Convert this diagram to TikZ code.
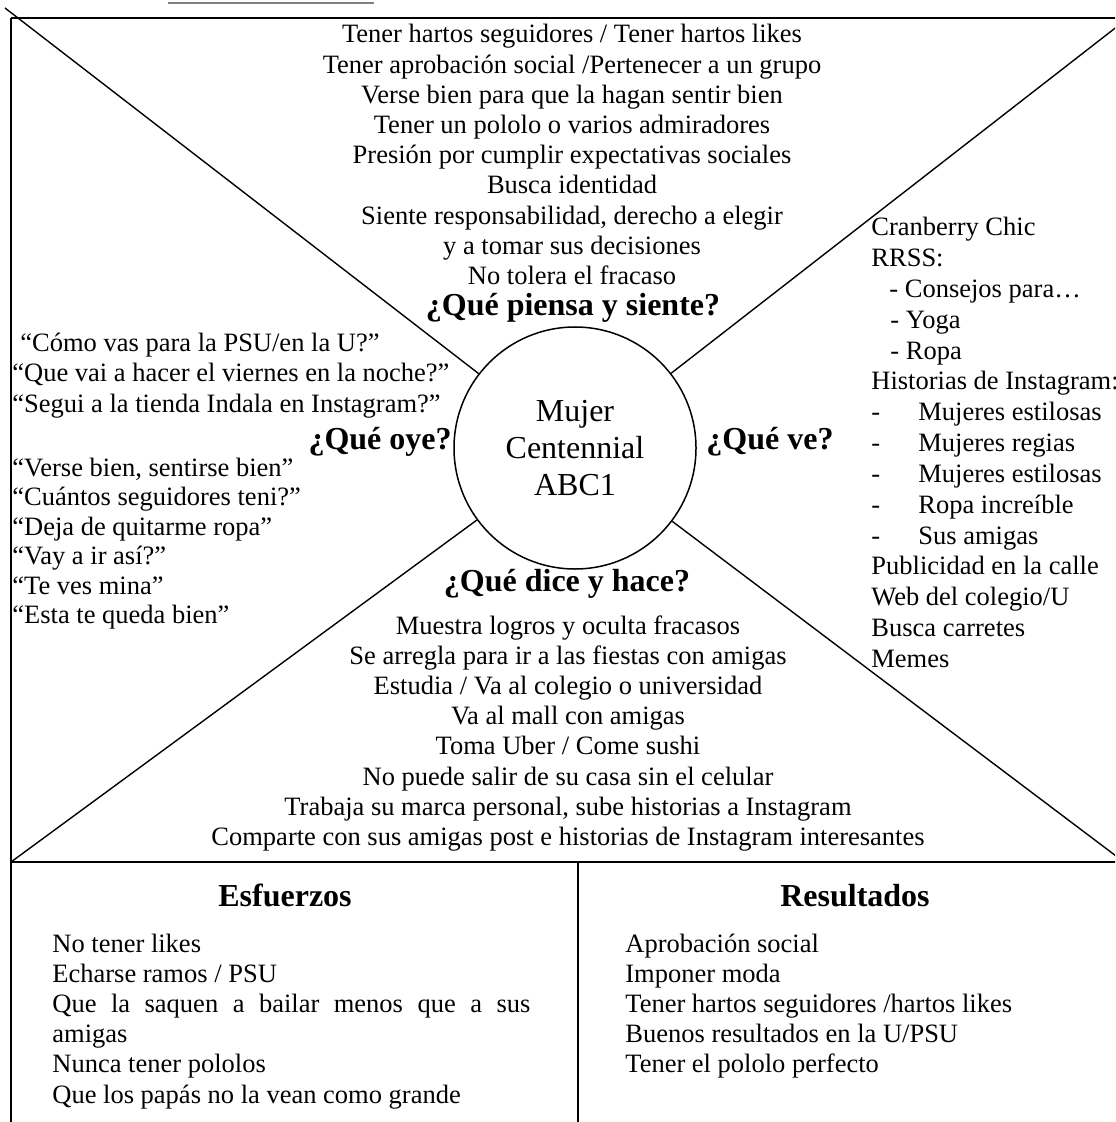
\documentclass[tikz,border=0pt]{standalone}
\usepackage{fontspec}
\setmainfont{Liberation Serif}
\begin{document}
\begin{tikzpicture}[x=0.5pt,y=-0.5pt,
    txt/.style={anchor=base,font=\fontsize{13.25}{15}\selectfont},
    ttl/.style={anchor=base,font=\fontsize{16}{18}\selectfont\bfseries},
    frame/.style={line width=1pt},
    diag/.style={line width=0.7pt}]
    \tikzstyle{every node}+=[inner sep=0pt]
    \useasboundingbox (0,0) rectangle (1115,1122);
    \clip (0,0) rectangle (1115,1122);
    % underline of the cut caption
    \draw [gray, line width=1pt] (168,3) -- (374,3);
    % frame
    \draw [frame] (11,18) -- (1135,18) -- (1135,1122);
    \draw [frame] (11,18) -- (11,1122);
    \draw [frame] (11,862) -- (1135,862);
    \draw [frame] (578,862) -- (578,1122);
    % centre and diagonals
    \node [circle, draw, line width=0.75pt, minimum size=121pt, align=center,
        font=\fontsize{16}{18.5}\selectfont] (ego) at (575,448) {Mujer\\Centennial\\ABC1};
    \coordinate (tl) at (5,8);
    \coordinate (tr) at (1141,8);
    \coordinate (bl) at (11,862);
    \coordinate (br) at (1124,862);
    \draw [diag] (ego) -- (tl);
    \draw [diag] (ego) -- (tr);
    \draw [diag] (ego) -- (bl);
    \draw [diag] (ego) -- (br);
    % piensa y siente
    \foreach \itm [count=\i from 0] in {{Tener hartos seguidores / Tener hartos likes},
        {Tener aprobación social /Pertenecer a un grupo},
        {Verse bien para que la hagan sentir bien},
        {Tener un pololo o varios admiradores},
        {Presión por cumplir expectativas sociales},
        {Busca identidad},
        {Siente responsabilidad, derecho a elegir},
        {y a tomar sus decisiones},
        {No tolera el fracaso}}
        \node [txt] (think\i) at (572,{43+30.2*\i}) {\itm};
    \node [ttl] (thinkttl) at (573,316) {¿Qué piensa y siente?};
    % oye
    \node [txt, anchor=base west] (hear0) at (20,352) {“Cómo vas para la PSU/en la U?”};
    \node [txt, anchor=base west] (hear1) at (12,382) {“Que vai a hacer el viernes en la noche?”};
    \node [txt, anchor=base west] (hear2) at (12,412) {“Segui a la tienda Indala en Instagram?”};
    \node [ttl, anchor=base east] (hearttl) at (452,449) {¿Qué oye?};
    \foreach \itm [count=\i from 3] in {{“Verse bien, sentirse bien”},
        {“Cuántos seguidores teni?”},
        {“Deja de quitarme ropa”},
        {“Vay a ir así?”},
        {“Te ves mina”},
        {“Esta te queda bien”}}
        \node [txt, anchor=base west] (hear\i) at (12,{476+29.5*(\i-3)}) {\itm};
    % ve
    \node [ttl] (seettl) at (770,449) {¿Qué ve?};
    \foreach \itm [count=\i from 0] in {{Cranberry Chic},
        {RRSS:},
        {\hspace{9pt}- Consejos para…},
        {\hspace{9.5pt}- Yoga},
        {\hspace{9.5pt}- Ropa},
        {Historias de Instagram:},
        {\makebox[23.5pt][l]{-}Mujeres estilosas},
        {\makebox[23.5pt][l]{-}Mujeres regias},
        {\makebox[23.5pt][l]{-}Mujeres estilosas},
        {\makebox[23.5pt][l]{-}Ropa increíble},
        {\makebox[23.5pt][l]{-}Sus amigas},
        {Publicidad en la calle},
        {Web del colegio/U},
        {Busca carretes},
        {Memes}}
        \node [txt, anchor=base west] (see\i) at (871,{236+30.8*\i}) {\itm};
    % dice y hace
    \node [ttl] (sayttl) at (567,591) {¿Qué dice y hace?};
    \foreach \itm [count=\i from 0] in {{Muestra logros y oculta fracasos},
        {Se arregla para ir a las fiestas con amigas},
        {Estudia / Va al colegio o universidad},
        {Va al mall con amigas},
        {Toma Uber / Come sushi},
        {No puede salir de su casa sin el celular},
        {Trabaja su marca personal, sube historias a Instagram},
        {Comparte con sus amigas post e historias de Instagram interesantes}}
        \node [txt] (say\i) at (568,{634+30.2*\i}) {\itm};
    % esfuerzos
    \node [ttl] (painttl) at (285,906) {Esfuerzos};
    \foreach \itm [count=\i from 0] in {{No tener likes},
        {Echarse ramos / PSU},
        {\makebox[239pt][s]{Que la saquen a bailar menos que a sus}},
        {amigas},
        {Nunca tener pololos},
        {Que los papás no la vean como grande}}
        \node [txt, anchor=base west] (pain\i) at (52,{952+30.2*\i}) {\itm};
    % resultados
    \node [ttl] (gainttl) at (855,906) {Resultados};
    \foreach \itm [count=\i from 0] in {{Aprobación social},
        {Imponer moda},
        {Tener hartos seguidores /hartos likes},
        {Buenos resultados en la U/PSU},
        {Tener el pololo perfecto}}
        \node [txt, anchor=base west] (gain\i) at (625,{952+30.2*\i}) {\itm};
\end{tikzpicture}
\end{document}
